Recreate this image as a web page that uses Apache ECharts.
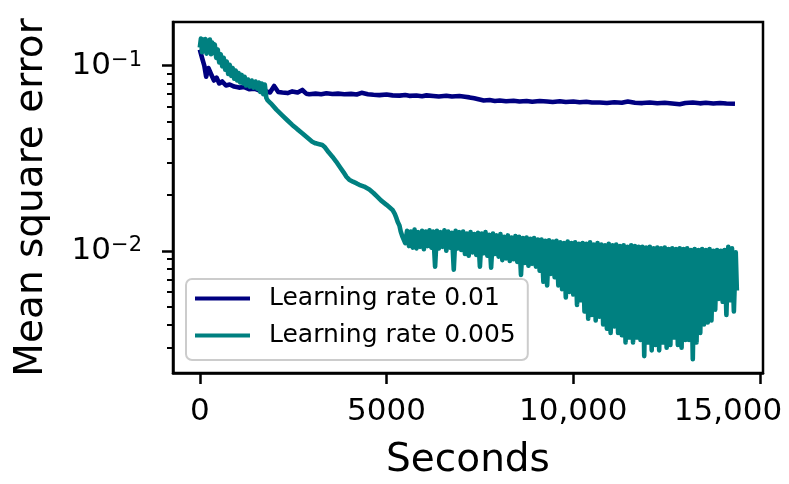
<!DOCTYPE html>
<html>
<head>
<meta charset="utf-8">
<script src="https://cdn.jsdelivr.net/npm/echarts@6/dist/echarts.min.js"></script>
<style>
html, body { margin: 0; padding: 0; background: #fff; }
#chart { width: 789px; height: 484px; }
</style>
</head>
<body>
<div id="chart"></div>
<script>
// series names / colours
const seriesNames = ['Learning rate 0.01', 'Learning rate 0.005'];
const seriesColors = ['#000080', '#008080'];

// x axis ticks
const xTicks = [0, 5000, 10000, 15000];
const xTickLabels = ['0', '5000', '10,000', '15,000'];

// y axis (log) decades shown
const yTickExps = [-2, -1];
const yTickLabels = ['\u22122', '\u22121'];
const yMinorTicks = [0.003, 0.004, 0.005, 0.006, 0.007, 0.008, 0.009,
  0.02, 0.03, 0.04, 0.05, 0.06, 0.07, 0.08, 0.09];

// [seconds, mse] - learning rate 0.01
const lr001 = [
  [0, 0.122], [60, 0.110], [120, 0.100], [170, 0.087], [230, 0.097], [300, 0.090],
  [380, 0.083], [450, 0.086], [520, 0.080], [600, 0.082], [700, 0.078], [800, 0.079],
  [920, 0.077], [1050, 0.076], [1190, 0.0765], [1320, 0.0745], [1460, 0.075], [1620, 0.073],
  [1780, 0.0725], [1880, 0.0715], [1990, 0.0775], [2100, 0.072], [2210, 0.0715], [2350, 0.071],
  [2475, 0.0725], [2620, 0.0715], [2745, 0.0738], [2850, 0.0705], [2930, 0.0700], [3100, 0.0705],
  [3250, 0.0700], [3390, 0.0708], [3550, 0.0702], [3700, 0.0705], [3870, 0.0700], [4050, 0.0703],
  [4200, 0.0698], [4330, 0.0712], [4500, 0.0700], [4650, 0.0695], [4810, 0.0692], [5000, 0.0697],
  [5160, 0.0690], [5350, 0.0688], [5500, 0.0693], [5610, 0.0686], [5800, 0.0689], [5950, 0.0683],
  [6070, 0.0690], [6250, 0.0685], [6400, 0.0681], [6600, 0.0687], [6750, 0.0680], [6950, 0.0684],
  [7100, 0.0678], [7220, 0.0673], [7350, 0.0665], [7490, 0.0655], [7600, 0.0648], [7760, 0.0651],
  [7900, 0.0644], [8030, 0.0648], [8200, 0.0642], [8400, 0.0646], [8560, 0.0640], [8750, 0.0644],
  [8900, 0.0638], [9100, 0.0643], [9300, 0.0639], [9450, 0.0636], [9640, 0.0641], [9800, 0.0635],
  [10000, 0.0639], [10170, 0.0633], [10350, 0.0637], [10500, 0.0632], [10710, 0.0631], [10900, 0.0628],
  [11100, 0.0634], [11300, 0.0629], [11460, 0.0640], [11650, 0.0630], [11850, 0.0627], [12050, 0.0632],
  [12250, 0.0626], [12450, 0.0629], [12650, 0.0624], [12850, 0.0618], [13000, 0.0627], [13200, 0.0631],
  [13390, 0.0625], [13550, 0.0629], [13750, 0.0624], [13930, 0.0628], [14100, 0.0624], [14330, 0.0622]
];

// [seconds, mse] - learning rate 0.005
const lr0005 = [
  [0, 0.125], [30, 0.140], [60, 0.118], [90, 0.138], [120, 0.121], [150, 0.139],
  [180, 0.116], [210, 0.136], [240, 0.120], [270, 0.138], [300, 0.115], [330, 0.133],
  [360, 0.117], [400, 0.130], [440, 0.110], [480, 0.122], [520, 0.104], [560, 0.115],
  [600, 0.099], [640, 0.110], [680, 0.095], [720, 0.105], [760, 0.090], [800, 0.101],
  [840, 0.088], [880, 0.097], [920, 0.085], [960, 0.094], [1000, 0.083], [1040, 0.091],
  [1080, 0.081], [1120, 0.089], [1160, 0.080], [1200, 0.087], [1240, 0.078], [1290, 0.084],
  [1340, 0.077], [1390, 0.083], [1440, 0.076], [1490, 0.082], [1540, 0.075], [1580, 0.081],
  [1620, 0.072], [1660, 0.080], [1700, 0.070], [1740, 0.079], [1780, 0.067], [1810, 0.0651],
  [1900, 0.0625], [2050, 0.0578], [2200, 0.0540], [2350, 0.0505], [2475, 0.0478], [2600, 0.0455],
  [2750, 0.0430], [2900, 0.0405], [3010, 0.0388], [3100, 0.0380], [3200, 0.0376], [3280, 0.0372],
  [3350, 0.0362], [3450, 0.0340], [3550, 0.0322], [3650, 0.0303], [3750, 0.0283], [3850, 0.0265],
  [3925, 0.0251], [4000, 0.0242], [4100, 0.0236], [4200, 0.0231], [4270, 0.0227], [4400, 0.0222],
  [4540, 0.0214], [4650, 0.0205], [4750, 0.0196], [4850, 0.0187], [5000, 0.0177], [5100, 0.0170],
  [5160, 0.0166], [5220, 0.0158], [5265, 0.0150], [5300, 0.0143], [5345, 0.0137], [5380, 0.0127],
  [5420, 0.0120],
  [5450, 0.0122], [5500, 0.0110], [5550, 0.0128], [5600, 0.0106], [5650, 0.0127], [5700, 0.0104],
  [5750, 0.0130], [5800, 0.0103], [5850, 0.0126], [5900, 0.0105], [5950, 0.0128], [6000, 0.0102],
  [6050, 0.0127], [6100, 0.0106], [6150, 0.0129], [6200, 0.0104], [6250, 0.0127], [6300, 0.0082],
  [6350, 0.0128], [6400, 0.0103], [6450, 0.0126], [6500, 0.0105], [6550, 0.0129], [6600, 0.0100],
  [6650, 0.0127], [6700, 0.0104], [6750, 0.0125], [6800, 0.0079], [6850, 0.0128], [6900, 0.0103],
  [6950, 0.0126], [7000, 0.0101], [7050, 0.0127], [7100, 0.0096], [7150, 0.0124], [7200, 0.0094],
  [7250, 0.0126], [7300, 0.0098], [7350, 0.0123], [7400, 0.0095], [7450, 0.0125], [7500, 0.0082],
  [7550, 0.0124], [7600, 0.0097], [7650, 0.0126], [7700, 0.0094], [7750, 0.0122], [7800, 0.0081],
  [7850, 0.0124], [7900, 0.0096], [7950, 0.0121], [8000, 0.0093], [8050, 0.0123], [8100, 0.0089],
  [8150, 0.0119], [8200, 0.0091], [8250, 0.0121], [8300, 0.0088], [8350, 0.0118], [8400, 0.0090],
  [8450, 0.0120], [8500, 0.0087], [8550, 0.0119], [8600, 0.0074], [8650, 0.0117], [8700, 0.0086],
  [8750, 0.0118], [8800, 0.0083], [8850, 0.0116], [8900, 0.0085], [8950, 0.0117], [9000, 0.0082],
  [9050, 0.0115], [9100, 0.0078], [9150, 0.0115], [9200, 0.0068], [9250, 0.0113], [9300, 0.0065],
  [9350, 0.0114], [9400, 0.0075], [9450, 0.0112], [9500, 0.0072], [9550, 0.0113], [9600, 0.0065],
  [9650, 0.0111], [9700, 0.0062], [9750, 0.0110], [9800, 0.0056], [9850, 0.0112], [9900, 0.0060],
  [9950, 0.0110], [10000, 0.0058], [10050, 0.0111], [10100, 0.0051], [10150, 0.0109], [10200, 0.0054],
  [10250, 0.0110], [10300, 0.0047], [10350, 0.0109], [10400, 0.0043], [10450, 0.0111], [10500, 0.0045],
  [10550, 0.0108], [10600, 0.0042], [10650, 0.0110], [10700, 0.0044], [10750, 0.0108], [10800, 0.0040],
  [10850, 0.0107], [10900, 0.0038], [10950, 0.0109], [11000, 0.0036], [11050, 0.0107], [11100, 0.0039],
  [11150, 0.0108], [11200, 0.0036], [11250, 0.0106], [11300, 0.0035], [11350, 0.0107], [11400, 0.0032],
  [11450, 0.0105], [11500, 0.0034], [11550, 0.0107], [11600, 0.0032], [11650, 0.0106], [11700, 0.0034],
  [11750, 0.0105], [11800, 0.0033], [11850, 0.0105], [11900, 0.0027], [11950, 0.0104], [12000, 0.0032],
  [12050, 0.0105], [12100, 0.0029], [12150, 0.0103], [12200, 0.0031], [12250, 0.0104], [12300, 0.0029],
  [12350, 0.0103], [12400, 0.0032], [12450, 0.0104], [12500, 0.0030], [12550, 0.0102], [12600, 0.0031],
  [12650, 0.0103], [12700, 0.0034], [12750, 0.0102], [12800, 0.0031], [12850, 0.0103], [12900, 0.0030],
  [12950, 0.0102], [13000, 0.0033], [13050, 0.0103], [13100, 0.0033], [13150, 0.0101], [13200, 0.0026],
  [13250, 0.0102], [13300, 0.0032], [13350, 0.0101], [13400, 0.0036], [13450, 0.0102], [13500, 0.0040],
  [13550, 0.0101], [13600, 0.0041], [13650, 0.0102], [13700, 0.0042], [13750, 0.0100], [13800, 0.0048],
  [13850, 0.0101], [13900, 0.0055], [13950, 0.0100], [14000, 0.0053], [14050, 0.0101], [14100, 0.0045],
  [14150, 0.0105], [14200, 0.0054], [14250, 0.0103], [14300, 0.0047], [14350, 0.0098], [14380, 0.0061]
];

const fontFamily = 'DejaVu Sans';
const toLog = pts => pts.map(p => [p[0], Math.log10(p[1])]);

const chart = echarts.init(document.getElementById('chart'));
chart.setOption({
    animation: false,
    backgroundColor: '#ffffff',
    color: seriesColors,
    grid: {
        left: 173, right: 26, top: 22, bottom: 111,
        show: true, borderColor: '#000', borderWidth: 2.5,
        outerBoundsMode: 'none'
    },
    legend: {
        orient: 'vertical',
        left: 186, top: 279,
        data: seriesNames,
        icon: 'rect',
        itemWidth: 55, itemHeight: 4, itemGap: 12,
        padding: [7, 12, 12, 9],
        backgroundColor: '#ffffff',
        borderColor: '#cccccc', borderWidth: 2, borderRadius: 6,
        textStyle: { fontFamily: fontFamily, fontSize: 25, lineHeight: 25, color: '#000', padding: [0, 0, 0, 14] }
    },
    xAxis: {
        type: 'value',
        min: -718, max: 15080,
        name: 'Seconds', nameLocation: 'middle', nameGap: 68,
        nameTextStyle: { fontFamily: fontFamily, fontSize: 39, color: '#000' },
        splitLine: { show: false },
        axisLine: { show: true, onZero: false, lineStyle: { color: '#000', width: 2.5 } },
        axisTick: { customValues: xTicks, length: 11, lineStyle: { color: '#000', width: 2.5 } },
        axisLabel: {
            customValues: xTicks, margin: 23,
            fontFamily: fontFamily, fontSize: 31, color: '#000',
            formatter: v => {
                const i = xTicks.indexOf(v);
                const s = i >= 0 ? xTickLabels[i] : '';
                return i === xTicks.length - 1 ? '{r|' + s + '}' : s;
            },
            rich: { r: { fontFamily: fontFamily, fontSize: 31, color: '#000', padding: [0, 64, 0, 0] } }
        }
    },
    yAxis: [{
        type: 'value',
        min: -2.66, max: -0.765,
        name: 'Mean square error', nameLocation: 'middle', nameGap: 122,
        nameTextStyle: { fontFamily: fontFamily, fontSize: 39, color: '#000' },
        splitLine: { show: false },
        axisLine: { show: true, onZero: false, lineStyle: { color: '#000', width: 2.5 } },
        axisTick: { customValues: yTickExps, length: 11, lineStyle: { color: '#000', width: 2.5 } },
        axisLabel: {
            customValues: yTickExps, margin: 31,
            formatter: v => {
                const i = yTickExps.indexOf(Math.round(v));
                return '{b|10}{s|' + yTickLabels[i] + '}';
            },
            rich: {
                b: { fontFamily: fontFamily, fontSize: 31, color: '#000' },
                s: { fontFamily: fontFamily, fontSize: 21, color: '#000', verticalAlign: 'top' }
            }
        }
    }, {
        type: 'value',
        min: -2.66, max: -0.765,
        position: 'left',
        splitLine: { show: false },
        axisLine: { show: false, onZero: false },
        axisLabel: { show: false },
        axisTick: {
            customValues: yMinorTicks.map(v => Math.log10(v)),
            length: 6, lineStyle: { color: '#000', width: 2 }
        }
    }],
    series: [lr001, lr0005].map((pts, i) => ({
        name: seriesNames[i],
        type: 'line',
        data: toLog(pts),
        symbol: 'none',
        showSymbol: false,
        sampling: null,
        lineStyle: { width: 4.6, join: 'round', color: seriesColors[i] },
        itemStyle: { color: seriesColors[i] }
    }))
});
</script>
</body>
</html>
